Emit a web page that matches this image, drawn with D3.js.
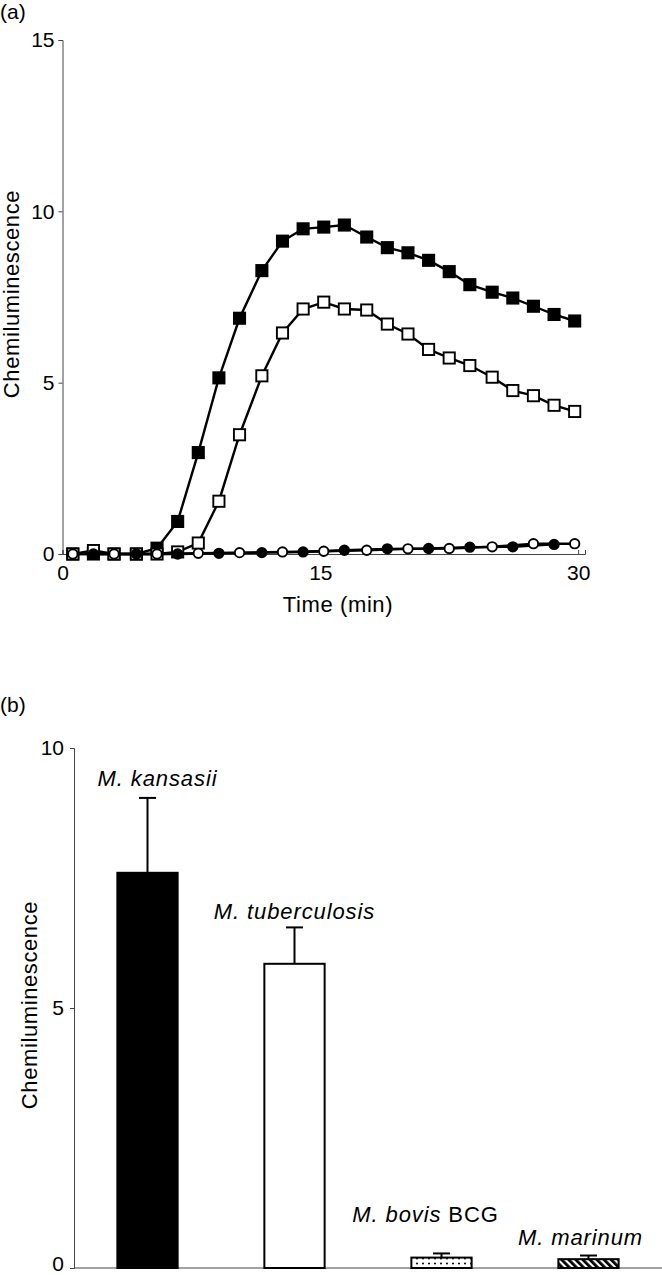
<!DOCTYPE html>
<html>
<head>
<meta charset="utf-8">
<script src="https://cdn.jsdelivr.net/npm/d3@7"></script>
<style>
  html, body { margin: 0; padding: 0; background: #fff; }
  svg { display: block; }
  text { font-family: "Liberation Sans", Arial, Helvetica, sans-serif; fill: #000; }
</style>
</head>
<body>
<svg id="chart" width="662" height="1275"></svg>
<script>
// ---------- Panel (a) data ----------
const times = [0.6, 1.8, 3.0, 4.3, 5.5, 6.7, 7.9, 9.1, 10.3, 11.6, 12.8, 14.0, 15.2,
               16.4, 17.7, 18.9, 20.1, 21.3, 22.5, 23.7, 25.0, 26.2, 27.4, 28.6, 29.8];
const filledSquares = [0, 0, 0, 0, 0.17, 0.95, 2.96, 5.14, 6.88, 8.27, 9.13, 9.49, 9.54,
                       9.6, 9.25, 8.94, 8.79, 8.57, 8.24, 7.86, 7.64, 7.47, 7.23, 6.99, 6.8];
const openSquares = [0, 0.1, 0, 0, 0, 0.06, 0.32, 1.54, 3.48, 5.2, 6.45, 7.15, 7.35,
                     7.15, 7.12, 6.71, 6.42, 5.97, 5.72, 5.5, 5.16, 4.77, 4.62, 4.34, 4.16];
const filledCircles = [null, 0, null, 0, null, 0, null, 0.02, null, 0.04, null, 0.06, null,
                       0.11, null, 0.15, null, 0.16, null, 0.2, null, 0.21, null, 0.28, null];
const openCircles = [0, null, 0, null, 0, null, 0.02, null, 0.04, null, 0.06, null, 0.08,
                     null, 0.11, null, 0.15, null, 0.16, null, 0.21, null, 0.3, null, 0.3];
const xTicksA = [0, 15, 30];
const yTicksA = [0, 5, 10, 15];

// ---------- Panel (b) data ----------
const species = ["M. kansasii", "M. tuberculosis", "M. bovis BCG", "M. marinum"];
const means = [7.6, 5.85, 0.2, 0.17];
const errors = [1.44, 0.7, 0.08, 0.07];
const yTicksB = [0, 5, 10];

// layout nudges for the species labels (pixels), not data
const labelDx = [10, 0, -16, -8];
const labelDy = [12, 8, 31, 11];

const svg = d3.select("#chart");
svg.append("rect").attr("width", 662).attr("height", 1275).attr("fill", "#fff");

// ================= Panel (a) =================
const xA = d3.scaleLinear().domain([0, 30.4]).range([62.5, 585]);
const yA = d3.scaleLinear().domain([0, 15]).range([554, 40]);

const gA = svg.append("g");
gA.append("text").attr("x", 0).attr("y", 19).attr("font-size", 21).text("(a)");

const axA_y = gA.append("g").attr("transform", `translate(${xA(0)},0)`)
  .call(d3.axisLeft(yA).tickValues(yTicksA).tickSize(4).tickPadding(4).tickFormat(d3.format("d")));
const axA_x = gA.append("g").attr("transform", `translate(0,${yA(0)})`)
  .call(d3.axisBottom(xA).tickValues(xTicksA).tickSize(-4).tickPadding(11).tickFormat(d3.format("d")));
[axA_y, axA_x].forEach(ax => {
  ax.selectAll("path.domain").attr("stroke", "#444").attr("stroke-width", 1);
  ax.selectAll(".tick line").attr("stroke", "#444").attr("stroke-width", 1);
  ax.selectAll("text").attr("font-size", 21).attr("font-family", "Liberation Sans, Arial, sans-serif").attr("fill", "#000");
});

gA.append("text").attr("x", 338).attr("y", 612).attr("text-anchor", "middle")
  .attr("font-size", 22).attr("letter-spacing", 0.6).text("Time (min)");
gA.append("text").attr("transform", "translate(11,294) rotate(-90)").attr("dy", "0.35em")
  .attr("text-anchor", "middle").attr("font-size", 22).attr("letter-spacing", 0.6)
  .text("Chemiluminescence");

function toPts(vals) {
  return vals.map((v, i) => ({ t: times[i], v })).filter(d => d.v !== null);
}
const lineA = d3.line().x(d => xA(d.t)).y(d => yA(d.v));

const seriesA = [
  { pts: toPts(filledSquares), shape: "square", fill: "#000" },
  { pts: toPts(openSquares), shape: "square", fill: "#fff" },
  { pts: toPts(filledCircles), shape: "circle", fill: "#000" },
  { pts: toPts(openCircles), shape: "circle", fill: "#fff" }
];

seriesA.forEach(s => {
  gA.append("path").datum(s.pts).attr("d", lineA)
    .attr("fill", "none").attr("stroke", "#000").attr("stroke-width", 2.4);
});
seriesA.forEach(s => {
  const g = gA.append("g");
  if (s.shape === "square") {
    g.selectAll("rect").data(s.pts).join("rect")
      .attr("x", d => xA(d.t) - 5.6).attr("y", d => yA(d.v) - 5.6)
      .attr("width", 11.2).attr("height", 11.2)
      .attr("fill", s.fill).attr("stroke", "#000").attr("stroke-width", 1.9);
  } else {
    g.selectAll("circle").data(s.pts).join("circle")
      .attr("cx", d => xA(d.t)).attr("cy", d => yA(d.v)).attr("r", 4.7)
      .attr("fill", s.fill).attr("stroke", "#000").attr("stroke-width", 1.9);
  }
});

// ================= Panel (b) =================
const defs = svg.append("defs");
const dots = defs.append("pattern").attr("id", "dots").attr("patternUnits", "userSpaceOnUse")
  .attr("width", 6).attr("height", 5);
dots.append("rect").attr("width", 6).attr("height", 5).attr("fill", "#fff");
dots.append("circle").attr("cx", 3).attr("cy", 3.5).attr("r", 1).attr("fill", "#000");

const hatch = defs.append("pattern").attr("id", "hatch").attr("patternUnits", "userSpaceOnUse")
  .attr("width", 5).attr("height", 5).attr("patternTransform", "rotate(-45)");
hatch.append("rect").attr("width", 5).attr("height", 5).attr("fill", "#fff");
hatch.append("rect").attr("width", 2.8).attr("height", 5).attr("fill", "#000");

const fills = ["#000", "#fff", "url(#dots)", "url(#hatch)"];

const xB = d3.scaleBand().domain(species).range([74, 662]).paddingInner(0.59).paddingOuter(0.295);
const yB = d3.scaleLinear().domain([0, 10]).range([1268, 748]);

const gB = svg.append("g");
gB.append("text").attr("x", 0).attr("y", 712).attr("font-size", 21).text("(b)");

const axB_y = gB.append("g").attr("transform", `translate(74,0)`)
  .call(d3.axisLeft(yB).tickValues(yTicksB).tickSize(4).tickPadding(6).tickFormat(d3.format("d")));
axB_y.selectAll("path.domain").attr("stroke", "#444").attr("stroke-width", 1);
axB_y.selectAll(".tick line").attr("stroke", "#444").attr("stroke-width", 1);
axB_y.selectAll("text").attr("font-size", 21).attr("font-family", "Liberation Sans, Arial, sans-serif").attr("fill", "#000");
// keep the bottom "0" label inside the picture
axB_y.selectAll(".tick").filter(d => d === 0).select("text").attr("dy", "0.1em");

gB.append("line").attr("x1", 74).attr("x2", 662).attr("y1", yB(0)).attr("y2", yB(0))
  .attr("stroke", "#444").attr("stroke-width", 1);

gB.append("text").attr("transform", "translate(29,1005) rotate(-90)").attr("dy", "0.35em")
  .attr("text-anchor", "middle").attr("font-size", 22).attr("letter-spacing", 0.6)
  .text("Chemiluminescence");

species.forEach((sp, i) => {
  const cx = xB(sp) + xB.bandwidth() / 2;
  const top = yB(means[i] + errors[i]);
  // error bar
  gB.append("line").attr("x1", cx).attr("x2", cx).attr("y1", yB(means[i])).attr("y2", top)
    .attr("stroke", "#000").attr("stroke-width", 2);
  gB.append("line").attr("x1", cx - 8.5).attr("x2", cx + 8.5).attr("y1", top).attr("y2", top)
    .attr("stroke", "#000").attr("stroke-width", 2);
  // bar
  gB.append("rect").attr("x", xB(sp)).attr("y", yB(means[i]))
    .attr("width", xB.bandwidth()).attr("height", yB(0) - yB(means[i]))
    .attr("fill", fills[i]).attr("stroke", "#000").attr("stroke-width", 2);
  // label
  const t = gB.append("text").attr("x", cx + labelDx[i]).attr("y", top - labelDy[i])
    .attr("text-anchor", "middle").attr("font-size", 22).attr("letter-spacing", 0.9);
  const m = sp.match(/^(M\. \w+)(.*)$/);
  t.append("tspan").attr("font-style", "italic").text(m[1]);
  if (m[2]) t.append("tspan").attr("font-style", "normal").text("\u00a0" + m[2].trim());
});
</script>
</body>
</html>
